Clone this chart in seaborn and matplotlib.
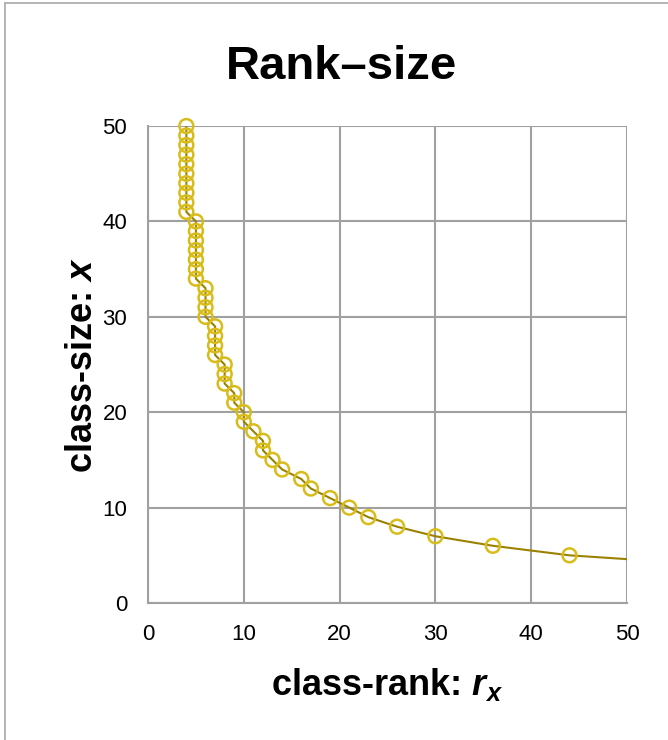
import matplotlib
matplotlib.use("Agg")
import matplotlib.pyplot as plt
import seaborn as sns
import pandas as pd
from matplotlib.lines import Line2D

# class sizes and their ranks
class_size = [50, 49, 48, 47, 46, 45, 44, 43, 42, 41,
              40, 39, 38, 37, 36, 35, 34,
              33, 32, 31, 30,
              29, 28, 27, 26,
              25, 24, 23,
              22, 21,
              20, 19,
              18, 17, 16, 15, 14, 13, 12, 11, 10, 9, 8, 7, 6, 5]
class_rank = [4, 4, 4, 4, 4, 4, 4, 4, 4, 4,
              5, 5, 5, 5, 5, 5, 5,
              6, 6, 6, 6,
              7, 7, 7, 7,
              8, 8, 8,
              9, 9,
              10, 10,
              11, 12, 12, 13, 14, 16, 17, 19, 21, 23, 26, 30, 36, 44]

# the connecting line runs on to the right edge
line_end_rank = [50]
line_end_size = [4.6]

df = pd.DataFrame({"rank": class_rank, "size": class_size})
line_df = pd.DataFrame({"rank": class_rank + line_end_rank,
                        "size": class_size + line_end_size})

sns.set_style("white")
plt.rcParams["font.family"] = ["Liberation Sans", "DejaVu Sans"]
plt.rcParams["text.color"] = "black"
plt.rcParams["axes.labelcolor"] = "black"
plt.rcParams["mathtext.fontset"] = "custom"
plt.rcParams["mathtext.bfit"] = "Liberation Sans:bold:italic"

GRID = "#a0a0a0"
MARK = "#d8bc1a"
LINE = "#9a8200"

fig = plt.figure(figsize=(6.68, 7.4), dpi=100)
ax = fig.add_axes([0.2216, 0.1851, 0.7170, 0.6446])

sns.lineplot(data=line_df, x="rank", y="size", sort=False, estimator=None,
             color=LINE, linewidth=1.5, ax=ax, zorder=3)
sns.scatterplot(data=df, x="rank", y="size", marker="o", s=100,
                facecolor="none", edgecolor=MARK, linewidth=1.8,
                ax=ax, zorder=4, clip_on=False)

ax.set_xlim(0, 50)
ax.set_ylim(0, 50)
ax.set_xticks(range(0, 51, 10))
ax.set_yticks(range(0, 51, 10))
ax.grid(True, color=GRID, linewidth=1.5)
ax.set_axisbelow(True)
for side in ["top", "right"]:
    ax.spines[side].set_visible(False)
for side in ["left", "bottom"]:
    ax.spines[side].set_color(GRID)
    ax.spines[side].set_linewidth(1.5)
ax.tick_params(axis="both", direction="out", length=6, width=1.5,
               color=GRID, labelsize=16, labelcolor="black", pad=9)

ax.set_xlabel(r"class-rank: $\mathbfit{r}_{\mathbfit{x}}$",
              fontsize=26, fontweight="bold", labelpad=15)
ax.set_ylabel(r"class-size: $\mathbfit{x}$",
              fontsize=26, fontweight="bold", labelpad=2)
ax.set_title("Rank\u2013size", fontsize=34, fontweight="bold", pad=34, x=0.404)

# left and top edge of the frame around the picture
fig.add_artist(Line2D([0.007, 0.007], [0.0, 0.996], transform=fig.transFigure,
                      color="#a8a8a8", linewidth=1.2))
fig.add_artist(Line2D([0.007, 1.0], [0.996, 0.996], transform=fig.transFigure,
                      color="#a8a8a8", linewidth=1.2))

fig.savefig("out.png", dpi=100)
